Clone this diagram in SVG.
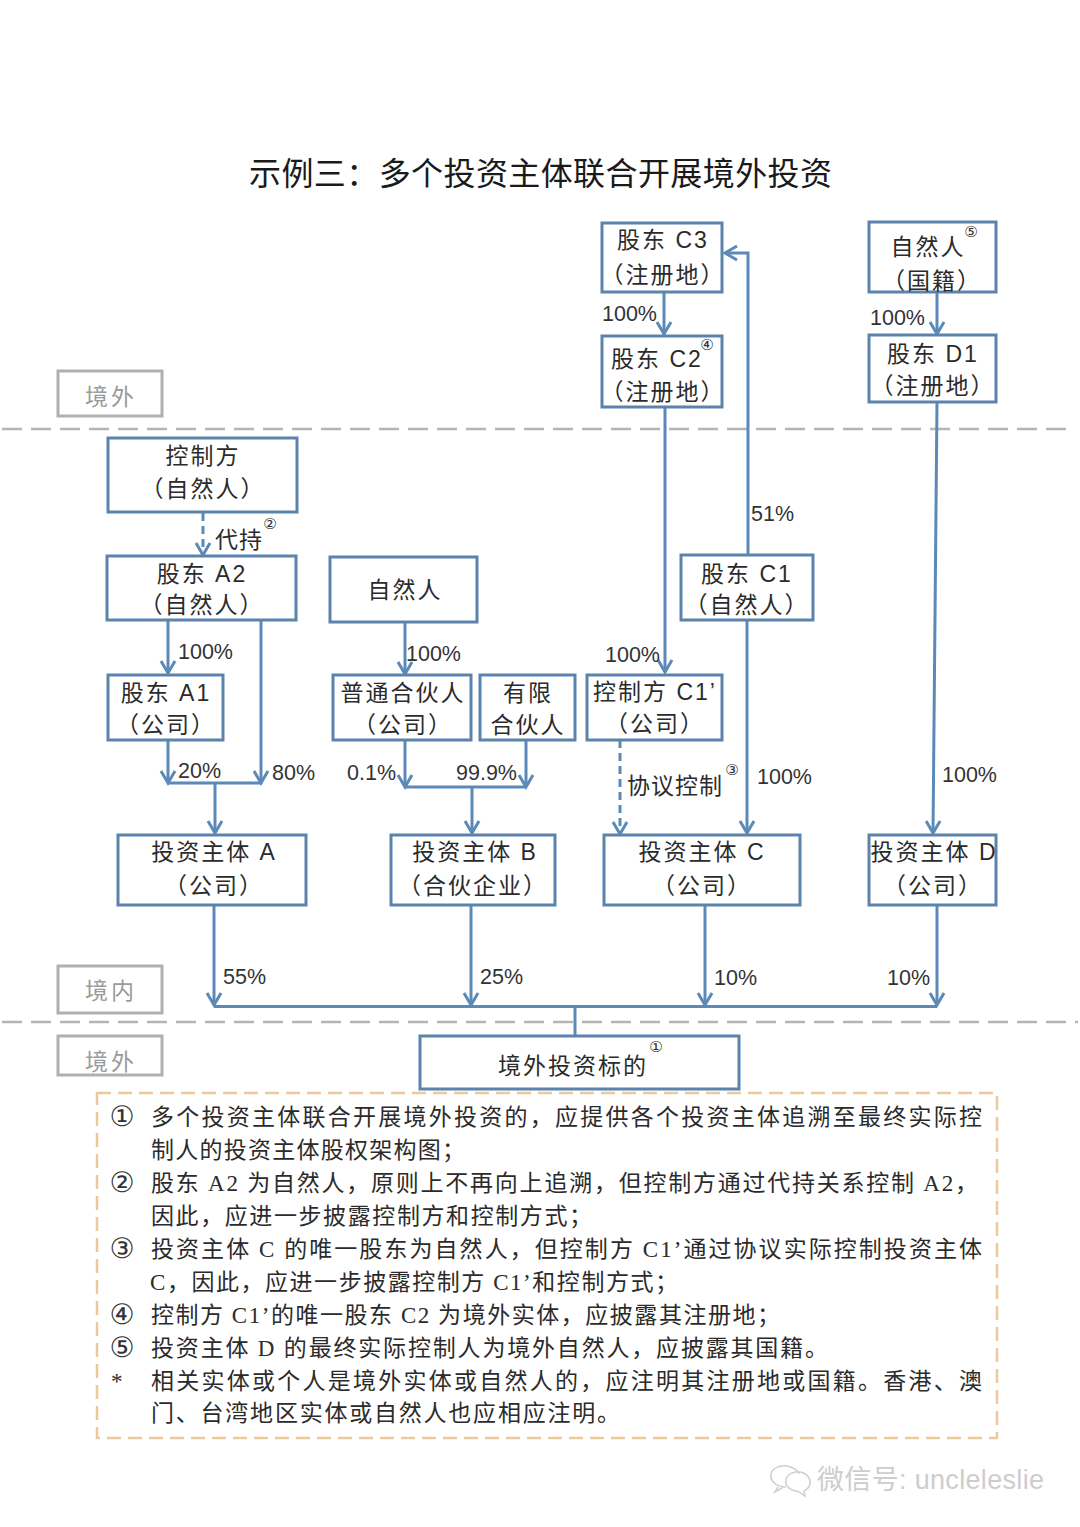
<svg xmlns="http://www.w3.org/2000/svg" width="1080" height="1527" viewBox="0 0 1080 1527">
<style>
text{font-family:"Liberation Sans","Noto Sans CJK SC",sans-serif;fill:#2b2b2b}
.n rect{fill:#fff;stroke:#5b83ab;stroke-width:3}
.n text{font-size:23px;letter-spacing:2px;text-anchor:middle}
text.sup,.n text.sup{font-size:15px;letter-spacing:0;font-family:"DejaVu Sans",sans-serif;text-anchor:middle}
.p{font-size:21.500px;fill:#333}
.z rect{fill:#fff;stroke:#b0b0b0;stroke-width:3}
.z text{font-size:23px;letter-spacing:3px;fill:#9a9a9a;text-anchor:middle}
.t{font-family:"Liberation Serif","Noto Sans CJK SC",serif;font-size:23px}
.m{font-family:"DejaVu Sans",sans-serif;font-size:28px;text-anchor:middle;fill:#333}
.c path{fill:none;stroke:#5b8ab8;stroke-width:3}
.c path.d{stroke-dasharray:8 5}
.h{fill:none;stroke:#b4b4b4;stroke-width:2.500;stroke-dasharray:20 9}
</style>
<defs>
<marker id="a" markerUnits="userSpaceOnUse" markerWidth="24" markerHeight="24" refX="13" refY="10" orient="auto" overflow="visible">
<path d="M1 3L13 10L1 17" fill="none" stroke="#5b8ab8" stroke-width="3"/>
</marker>
</defs>
<rect width="1080" height="1527" fill="#fff"/>
<text x="249" y="185" textLength="583" style="font-size:32px;fill:#1a1a1a">示例三：多个投资主体联合开展境外投资</text>
<path class="h" d="M2 429H1072"/>
<path class="h" d="M2 1022H1078"/>
<g id="zone-out-1" class="z"><rect x="58" y="371" width="104" height="45"/><text x="111" y="405">境外</text></g>
<g id="zone-in" class="z"><rect x="58" y="966" width="104" height="47"/><text x="111" y="999">境内</text></g>
<g id="zone-out-2" class="z"><rect x="58" y="1036" width="104" height="39"/><text x="111" y="1070">境外</text></g>
<g id="connectors" class="c">
<path marker-end="url(#a)" d="M664 292V334"/>
<path marker-end="url(#a)" d="M937 292V334"/>
<path marker-end="url(#a)" d="M665 407V672"/>
<path marker-end="url(#a)" d="M748 555V253H725"/>
<path marker-end="url(#a)" d="M937 402L933 833"/>
<path marker-end="url(#a)" d="M747 620V833"/>
<path class="d" marker-end="url(#a)" d="M203 513V555"/>
<path marker-end="url(#a)" d="M168 620V673"/>
<path marker-end="url(#a)" d="M261 620V783"/>
<path marker-end="url(#a)" d="M168 740V783"/>
<path d="M168 783H261"/>
<path marker-end="url(#a)" d="M215 783V833"/>
<path marker-end="url(#a)" d="M405 622V674"/>
<path marker-end="url(#a)" d="M405 740V787"/>
<path marker-end="url(#a)" d="M526 740V787"/>
<path d="M405 787H526"/>
<path marker-end="url(#a)" d="M472 787V833"/>
<path class="d" marker-end="url(#a)" d="M620 740V834"/>
<path marker-end="url(#a)" d="M214 905V1005"/>
<path marker-end="url(#a)" d="M471 905V1005"/>
<path marker-end="url(#a)" d="M705 905V1005"/>
<path marker-end="url(#a)" d="M937 905V1005"/>
<path d="M214 1006.500H937"/>
<path d="M575 1006V1036"/>
</g>
<g id="c3" class="n"><rect x="602" y="223" width="120" height="69"/><text x="663" y="248">股东 C3</text><text x="663" y="283">（注册地）</text></g>
<g id="c2" class="n"><rect x="602" y="336" width="120" height="71"/><text x="657" y="367">股东 C2</text><text x="663" y="400">（注册地）</text><text class="sup" x="707" y="350">④</text></g>
<g id="np5" class="n"><rect x="869" y="222" width="127" height="70"/><text x="928" y="255">自然人</text><text x="932" y="289">（国籍）</text><text class="sup" x="971" y="237">⑤</text></g>
<g id="d1" class="n"><rect x="869" y="335" width="127" height="67"/><text x="933" y="362">股东 D1</text><text x="933" y="394">（注册地）</text></g>
<g id="ctrl" class="n"><rect x="108" y="438" width="189" height="74"/><text x="203" y="464">控制方</text><text x="203" y="497">（自然人）</text></g>
<g id="a2" class="n"><rect x="107" y="556" width="189" height="64"/><text x="202" y="582">股东 A2</text><text x="202" y="613">（自然人）</text></g>
<g id="np" class="n"><rect x="330" y="557" width="147" height="65"/><text x="405" y="598">自然人</text></g>
<g id="c1" class="n"><rect x="681" y="555" width="132" height="65"/><text x="747" y="582">股东 C1</text><text x="747" y="613">（自然人）</text></g>
<g id="a1" class="n"><rect x="108" y="675" width="115" height="65"/><text x="166" y="701">股东 A1</text><text x="166" y="733">（公司）</text></g>
<g id="gp" class="n"><rect x="333" y="675" width="138" height="65"/><text x="403" y="701">普通合伙人</text><text x="403" y="733">（公司）</text></g>
<g id="lp" class="n"><rect x="480" y="675" width="95" height="65"/><text x="528" y="701">有限</text><text x="528" y="733">合伙人</text></g>
<g id="c1p" class="n"><rect x="587" y="675" width="135" height="65"/><text x="655" y="700">控制方 C1’</text><text x="655" y="732">（公司）</text></g>
<g id="ia" class="n"><rect x="118" y="835" width="188" height="70"/><text x="214" y="860">投资主体 A</text><text x="214" y="894">（公司）</text></g>
<g id="ib" class="n"><rect x="391" y="835" width="164" height="70"/><text x="475" y="860">投资主体 B</text><text x="473" y="894">（合伙企业）</text></g>
<g id="ic" class="n"><rect x="604" y="835" width="196" height="70"/><text x="702" y="860">投资主体 C</text><text x="702" y="894">（公司）</text></g>
<g id="id" class="n"><rect x="869" y="835" width="127" height="70"/><text x="934" y="860">投资主体 D</text><text x="933" y="894">（公司）</text></g>
<g id="target" class="n"><rect x="420" y="1036" width="319" height="53"/><text x="573" y="1074">境外投资标的</text><text class="sup" x="656" y="1052">①</text></g>
<g id="edge-labels">
<text class="p" x="602" y="321">100%</text>
<text class="p" x="870" y="325">100%</text>
<text class="p" x="178" y="659">100%</text>
<text class="p" x="406" y="661">100%</text>
<text class="p" x="605" y="662">100%</text>
<text class="p" x="178" y="778">20%</text>
<text class="p" x="272" y="780">80%</text>
<text class="p" x="347" y="780">0.1%</text>
<text class="p" x="456" y="780">99.9%</text>
<text class="p" x="751" y="521">51%</text>
<text class="p" x="757" y="784">100%</text>
<text class="p" x="942" y="782">100%</text>
<text class="p" x="223" y="984">55%</text>
<text class="p" x="480" y="984">25%</text>
<text class="p" x="714" y="985">10%</text>
<text class="p" x="887" y="985">10%</text>
<text x="215" y="548" style="font-size:23px;letter-spacing:1px">代持</text>
<text class="sup" x="270" y="529">②</text>
<text x="627" y="794" style="font-size:23px;letter-spacing:1px">协议控制</text>
<text class="sup" x="732" y="775">③</text>
</g>
<g id="notes">
<rect x="97" y="1093" width="900" height="345" fill="none" stroke="#ecc99b" stroke-width="2.500" stroke-dasharray="14 7"/>
<text class="m" x="122" y="1126">①</text>
<text class="t" x="151" y="1125" textLength="831">多个投资主体联合开展境外投资的，应提供各个投资主体追溯至最终实际控</text>
<text class="t" x="151" y="1158" textLength="314">制人的投资主体股权架构图；</text>
<text class="m" x="122" y="1192">②</text>
<text class="t" x="151" y="1191" textLength="827">股东 A2 为自然人，原则上不再向上追溯，但控制方通过代持关系控制 A2，</text>
<text class="t" x="151" y="1224" textLength="441">因此，应进一步披露控制方和控制方式；</text>
<text class="m" x="122" y="1258">③</text>
<text class="t" x="151" y="1257" textLength="831">投资主体 C 的唯一股东为自然人，但控制方 C1’通过协议实际控制投资主体</text>
<text class="t" x="150" y="1290" textLength="528">C，因此，应进一步披露控制方 C1’和控制方式；</text>
<text class="m" x="122" y="1324">④</text>
<text class="t" x="151" y="1323" textLength="629">控制方 C1’的唯一股东 C2 为境外实体，应披露其注册地；</text>
<text class="m" x="122" y="1357">⑤</text>
<text class="t" x="151" y="1356" textLength="677">投资主体 D 的最终实际控制人为境外自然人，应披露其国籍。</text>
<text class="t" x="111" y="1389">*</text>
<text class="t" x="151" y="1389" textLength="831">相关实体或个人是境外实体或自然人的，应注明其注册地或国籍。香港、澳</text>
<text class="t" x="151" y="1421" textLength="469">门、台湾地区实体或自然人也应相应注明。</text>
</g>
<g id="watermark">
<path d="M786 1487C775 1487 770 1480 771 1474C772 1468 780 1465 787 1466C794 1467 799 1472 799 1474M778 1487L775 1492L782 1488" fill="none" stroke="#cfcfcf" stroke-width="1.500"/>
<path d="M796 1491C789 1490 785 1485 786 1480C787 1474 794 1471 800 1472C807 1473 811 1479 810 1484C809 1488 806 1490 804 1491L805 1496L799 1492Z" fill="none" stroke="#cfcfcf" stroke-width="1.500"/>
<text x="817" y="1489" textLength="227" style="font-size:27px;fill:#cdcdcd">微信号: uncleleslie</text>
</g>
</svg>
